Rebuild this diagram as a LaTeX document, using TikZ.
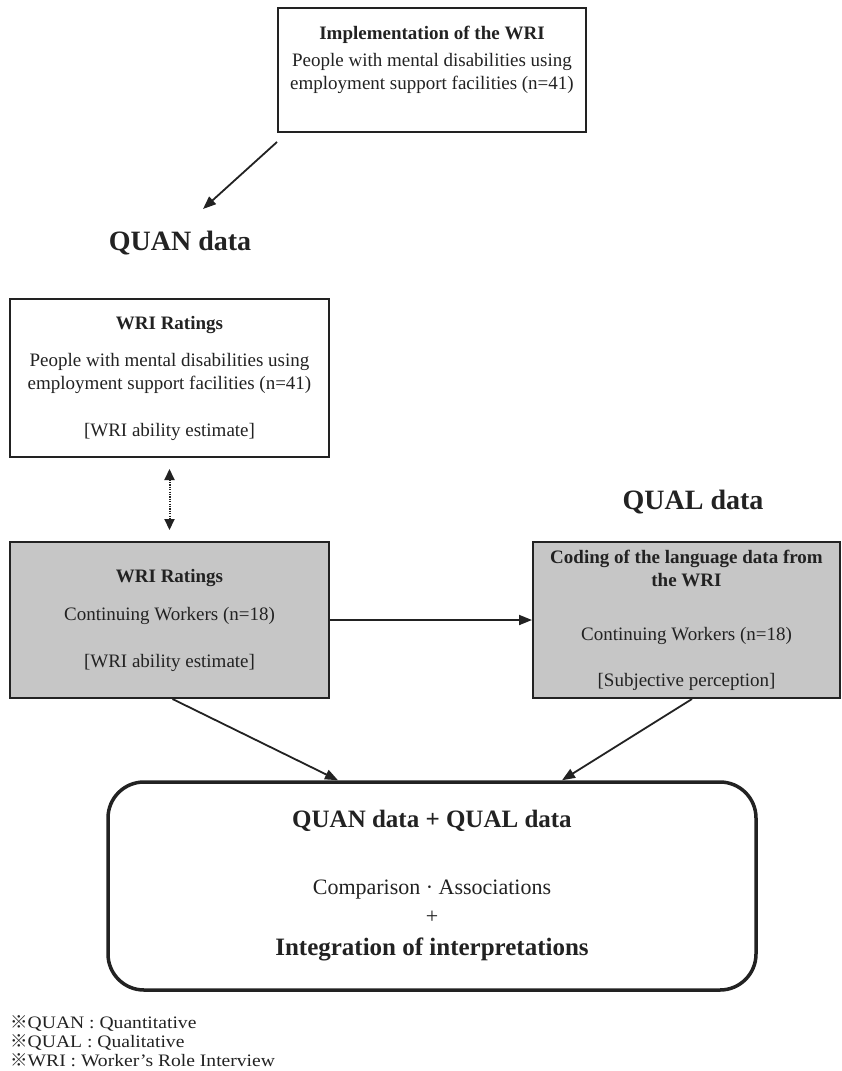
\documentclass[tikz,border=0pt]{standalone}
\usepackage{fontspec}
\setmainfont{Liberation Serif}
\newfontfamily\cjk{Noto Sans CJK JP}
\newfontfamily\notefont{Liberation Serif}[FakeStretch=1.12]
\usetikzlibrary{arrows.meta}
\definecolor{boxgray}{RGB}{198,198,198}
\definecolor{ink}{RGB}{34,34,34}
\begin{document}
\begin{tikzpicture}[x=1pt,y=-1pt,
  box/.style={draw=ink, line width=2pt, rectangle, inner sep=0pt, align=center, text=ink, font=\fontsize{19}{23}\selectfont},
  graybox/.style={box, fill=boxgray},
  arr/.style={draw=ink, line width=1.8pt, -{Triangle[length=13pt,width=10pt]}},
  head/.style={font=\bfseries\fontsize{28}{32}\selectfont, text=ink},
  plain/.style={align=center, text=ink, font=\fontsize{19}{23}\selectfont}]
\useasboundingbox (0,0) rectangle (842,1071);
\fill[white] (0,0) rectangle (842,1071);

\node[box, minimum width=308pt, minimum height=124pt] (top) at (432,70) {};
\node[plain] (toptext) at (432,60) {{\bfseries Implementation of the WRI}\\[4pt]
  People with mental disabilities using\\ employment support facilities (n=41)};

\node[head] (quan) at (180,243) {QUAN data};
\node[head] (qual) at (693,502) {QUAL data};

\node[box, minimum width=319pt, minimum height=158pt] (b2) at (169.5,378)
  {{\bfseries WRI Ratings}\\[14pt] People with mental disabilities using\\ employment support facilities (n=41)\\[24pt] [WRI ability estimate]};

\node[graybox, minimum width=319pt, minimum height=156pt] (b3) at (169.5,620)
  {{\bfseries WRI Ratings}\\[15pt] Continuing Workers (n=18)\\[24pt] [WRI ability estimate]};

\node[graybox, minimum width=307pt, minimum height=156pt] (b4) at (686.5,620)
  {{\bfseries Coding of the language data from}\\ {\bfseries the WRI}\\[31pt] Continuing Workers (n=18)\\[23pt] [Subjective perception]};

\node[draw=ink, line width=3.5pt, rounded corners=36pt, minimum width=648pt, minimum height=208pt,
  align=center, text=ink, font=\fontsize{22}{29}\selectfont] (fin) at (432,886)
  {{\bfseries\fontsize{25}{29}\selectfont QUAN data + QUAL data}\\[38pt]
   Comparison · Associations\\ +\\[3pt]
   {\bfseries\fontsize{25}{29}\selectfont Integration of interpretations}};

\node[anchor=north west, align=left, text=ink, inner sep=0pt, font=\notefont\fontsize{17.5}{19}\selectfont] (notes) at (10,1015)
  {{\cjk ※}QUAN : Quantitative\\ {\cjk ※}QUAL : Qualitative\\ {\cjk ※}WRI : Worker’s Role Interview};

\coordinate (qend) at (203,209);
\draw[arr] ([yshift=-9pt]top.south west) -- (qend);
\draw[ink, line width=2pt, dash pattern=on 1.2pt off 1.2pt,
  {Triangle[length=11pt,width=10pt]}-{Triangle[length=11pt,width=10pt]}]
  ([yshift=-11pt]b2.south) -- ([yshift=11pt]b3.north);
\draw[arr] (b3.east) -- (b4.west);
\draw[arr] ([xshift=3pt]b3.south) -- ([xshift=-94pt]fin.north);
\draw[arr] ([xshift=5.5pt]b4.south) -- ([xshift=130pt]fin.north);
\end{tikzpicture}
\end{document}
